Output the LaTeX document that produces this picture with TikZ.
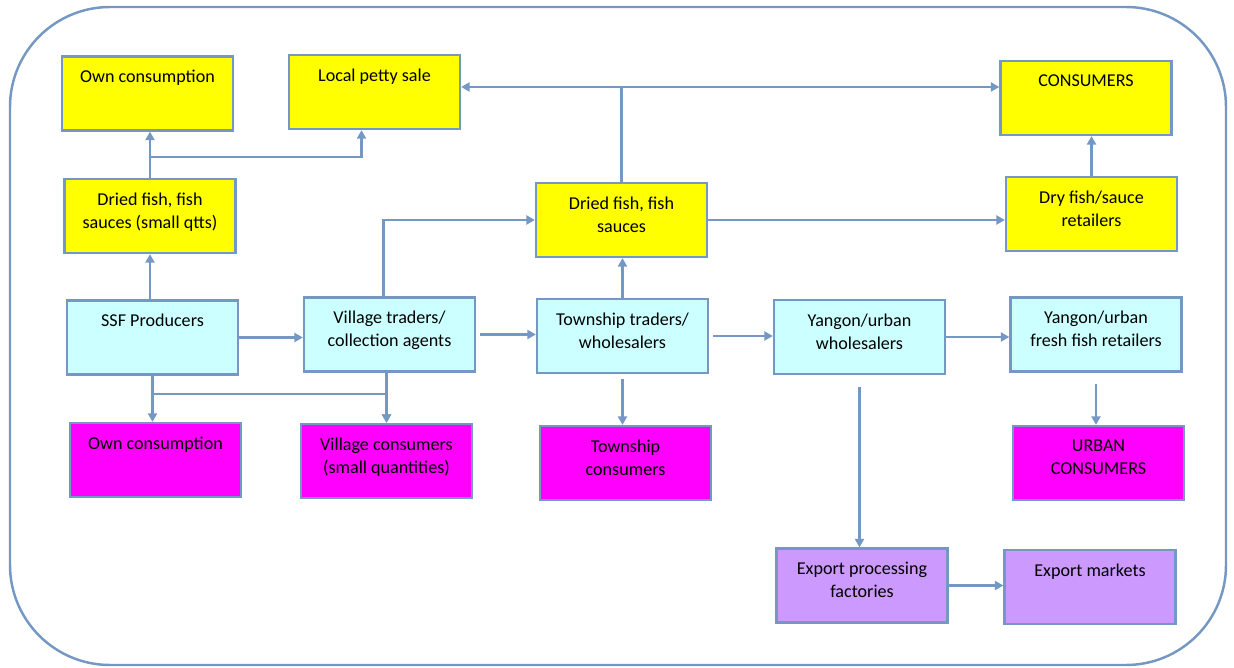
\documentclass[tikz,border=0pt]{standalone}
\usepackage{fontspec}
\setmainfont{Carlito}
\usetikzlibrary{arrows.meta, calc}
\definecolor{edgeblue}{RGB}{116,151,196}
\definecolor{dryyellow}{RGB}{255,255,0}
\definecolor{freshcyan}{RGB}{204,255,255}
\definecolor{consmagenta}{RGB}{255,0,255}
\definecolor{exportlilac}{RGB}{204,153,255}
\begin{document}
\begin{tikzpicture}[x=0.02cm,y=-0.02cm,>={Triangle[length=0.17cm,width=0.18cm]},stage/.style={rectangle,draw=edgeblue,line width=1.3pt,minimum width=3.42cm,minimum height=1.48cm,inner sep=0pt},caption/.style={anchor=north,inner sep=0pt,yshift=-0.29cm,align=center,font=\fontsize{10.3}{13}\selectfont},flow/.style={->,draw=edgeblue,line width=1.2pt}]
\useasboundingbox (0,0) rectangle (1234,668);
\draw[edgeblue,line width=1.4pt,rounded corners=2cm] (10,7) rectangle (1226,665);
% top row
\node[stage,fill=dryyellow,label={[caption]north:Own consumption}] (ownuse) at (147.5,93.5) {};
\node[stage,fill=dryyellow,label={[caption]north:Local petty sale}] (petty) at (374.5,92) {};
\node[stage,fill=dryyellow,label={[caption]north:CONSUMERS}] (consumers) at (1086,98) {};
% dried products
\node[stage,fill=dryyellow,label={[caption]north:{Dried fish, fish\\sauces (small qtts)}}] (drysmall) at (150,216) {};
\node[stage,fill=dryyellow,label={[caption]north:{Dried fish, fish\\sauces}}] (drymid) at (621.5,220) {};
\node[stage,fill=dryyellow,label={[caption]north:{Dry fish/sauce\\retailers}}] (dryretail) at (1091.5,214) {};
% fresh fish chain
\node[stage,fill=freshcyan,label={[caption]north:SSF Producers}] (ssf) at (152.5,337.5) {};
\node[stage,fill=freshcyan,label={[caption]north:{Village traders/\\collection agents}}] (villagetr) at (389.5,334.5) {};
\node[stage,fill=freshcyan,label={[caption]north:{Township traders/\\wholesalers}}] (township) at (622.5,336) {};
\node[stage,fill=freshcyan,label={[caption]north:{Yangon/urban\\wholesalers}}] (yangonws) at (859.5,337) {};
\node[stage,fill=freshcyan,label={[caption]north:{Yangon/urban\\fresh fish retailers}}] (freshretail) at (1096,334.5) {};
% consumers
\node[stage,fill=consmagenta,label={[caption]north:Own consumption}] (ownhome) at (155.5,460) {};
\node[stage,fill=consmagenta,label={[caption]north:{Village consumers\\(small quantities)}}] (villcons) at (386.5,461) {};
\node[stage,fill=consmagenta,label={[caption]north:{Township\\consumers}}] (towncons) at (625.5,463) {};
\node[stage,fill=consmagenta,label={[caption]north:{URBAN\\CONSUMERS}}] (urbancons) at (1098.5,463) {};
% export
\node[stage,fill=exportlilac,label={[caption]north:{Export processing\\factories}}] (exportproc) at (862,585.5) {};
\node[stage,fill=exportlilac,label={[caption]north:Export markets}] (exportmkt) at (1090,587) {};
% connectors
\draw[flow] (drysmall.north) -- (drysmall.north |- ownuse.south);
\coordinate (jsmall) at (150,157);
\draw[flow] (jsmall) -| ($(petty.south)+(-13,0)$);
\coordinate (jmid) at (621.5,87);
\draw[edgeblue,line width=1.2pt] (drymid.north) -- (jmid);
\draw[flow] (jmid) -- (jmid -| petty.east);
\draw[flow] (jmid) -- (jmid -| consumers.west);
\draw[flow] (drymid.east) -- (drymid.east -| dryretail.west);
\draw[flow] (dryretail.north) -- (dryretail.north |- consumers.south);
\draw[flow] (drysmall.south |- ssf.north) -- (drysmall.south);
\draw[flow] ($(villagetr.north)+(-6,0)$) |- (drymid.west);
\draw[flow] (ssf.east) -- (ssf.east -| villagetr.west);
\draw[flow,shorten <=0.08cm] (villagetr.east) -- (villagetr.east -| township.west);
\draw[flow] (township.north) -- (township.north |- drymid.south);
\draw[flow,shorten <=0.08cm] (township.east) -- (township.east -| yangonws.west);
\draw[flow] (yangonws.east) -- (yangonws.east -| freshretail.west);
\draw[flow,shorten <=0.1cm] (township.south) -- (township.south |- towncons.north);
\draw[flow,shorten <=0.24cm] (yangonws.south) -- (yangonws.south |- exportproc.north);
\draw[flow,shorten <=0.22cm] (freshretail.south) -- (freshretail.south |- urbancons.north);
\draw[flow] (exportproc.east) -- (exportproc.east -| exportmkt.west);
\draw[flow] (ssf.south) -- (ssf.south |- ownhome.north);
\draw[flow] ($(ssf.south)+(0,18)$) -| (villcons.north);
\draw[flow] (villcons.north |- villagetr.south) -- (villcons.north);
\end{tikzpicture}
\end{document}
